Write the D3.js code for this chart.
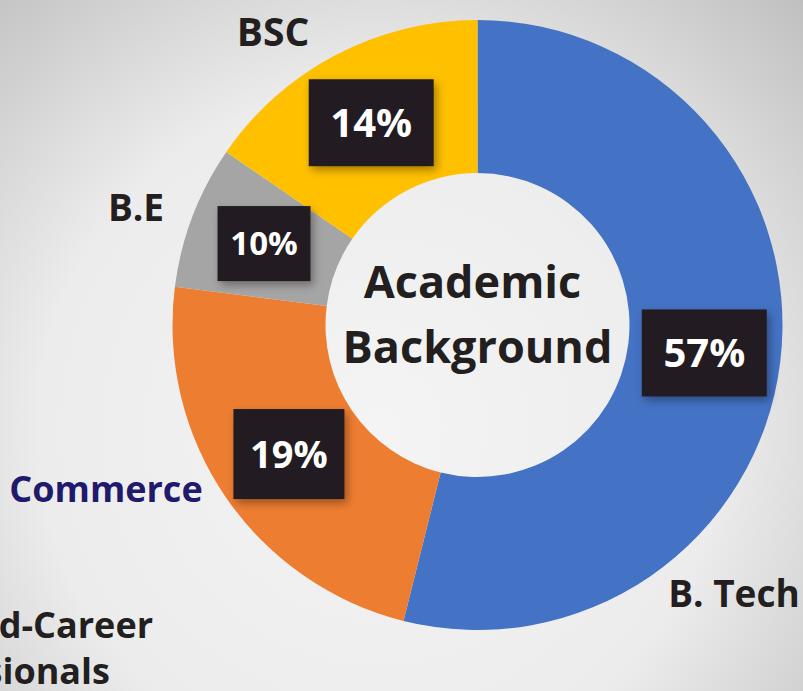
<!DOCTYPE html>
<html>
<head>
<meta charset="utf-8">
<script src="https://cdn.jsdelivr.net/npm/d3@7"></script>
<style>
  html, body { margin: 0; padding: 0; overflow: hidden; }
  body { width: 803px; height: 691px; }
  text { font-family: "Open Sans", Roboto, sans-serif; font-weight: 700; }
</style>
</head>
<body>
<script>
// categories in drawing order (clockwise from 12 o'clock)
var categories = ['B. Tech', 'Commerce', 'B.E', 'BSC'];
// arc sizes as drawn in the picture (share of the ring)
var arcShares = [53.9, 23.1, 7.6, 15.4];
// percentages printed on the slices
var printedPct = ['57%', '19%', '10%', '14%'];
var colors = ['#4472c4', '#ed7d31', '#a5a5a5', '#ffc000'];
var extraLabel = ['Mid-Career', 'Professionals'];

var W = 803, H = 691;
var cx = 477.5, cy = 325, outerR = 305, innerR = 152;

var svg = d3.select('body').append('svg')
    .attr('width', W)
    .attr('height', H);

var defs = svg.append('defs');
var grad = defs.append('radialGradient')
    .attr('id', 'bg')
    .attr('gradientUnits', 'userSpaceOnUse')
    .attr('cx', 380).attr('cy', 430).attr('r', 620);
grad.append('stop').attr('offset', '0%').attr('stop-color', '#f4f4f4');
grad.append('stop').attr('offset', '55%').attr('stop-color', '#ececec');
grad.append('stop').attr('offset', '100%').attr('stop-color', '#bdbdbd');

var shadow = defs.append('filter').attr('id', 'shadow')
    .attr('x', '-20%').attr('y', '-20%').attr('width', '150%').attr('height', '150%');
shadow.append('feDropShadow')
    .attr('dx', 3).attr('dy', 4).attr('stdDeviation', 4)
    .attr('flood-color', '#000').attr('flood-opacity', 0.35);

svg.append('rect')
    .attr('width', W).attr('height', H)
    .attr('fill', 'url(#bg)');

var g = svg.append('g').attr('transform', 'translate(' + cx + ',' + cy + ')');

var pie = d3.pie().sort(null).value(function (d) { return d; });
var arc = d3.arc().innerRadius(innerR).outerRadius(outerR);
var arcs = pie(arcShares);

g.selectAll('.slice')
    .data(arcs)
    .enter().append('path')
    .attr('class', 'slice')
    .attr('d', arc)
    .attr('fill', function (d, i) { return colors[i]; });

// centre title
g.append('text')
    .attr('text-anchor', 'middle')
    .attr('x', -5).attr('y', -27)
    .attr('fill', '#231f20')
    .style('font-size', '45px')
    .text('Academic');
g.append('text')
    .attr('text-anchor', 'middle')
    .attr('x', 0).attr('y', 38)
    .attr('fill', '#231f20')
    .style('font-size', '45px')
    .text('Background');

// percentage boxes on the slices
var boxStyle = [
    { w: 125, h: 87, fs: 40 },
    { w: 111, h: 90, fs: 38 },
    { w: 93, h: 75, fs: 33 },
    { w: 125, h: 87, fs: 40 }
];

var pct = g.selectAll('.pct')
    .data(arcs)
    .enter().append('g')
    .attr('class', 'pct')
    .attr('transform', function (d) {
        var c = arc.centroid(d);
        return 'translate(' + c[0] + ',' + c[1] + ')';
    });

pct.append('rect')
    .attr('x', function (d, i) { return -boxStyle[i].w / 2; })
    .attr('y', function (d, i) { return -boxStyle[i].h / 2; })
    .attr('width', function (d, i) { return boxStyle[i].w; })
    .attr('height', function (d, i) { return boxStyle[i].h; })
    .attr('fill', '#231f20')
    .attr('filter', 'url(#shadow)');

pct.append('text')
    .attr('text-anchor', 'middle')
    .attr('dy', '0.36em')
    .attr('fill', '#fff')
    .style('font-size', function (d, i) { return boxStyle[i].fs + 'px'; })
    .text(function (d, i) { return printedPct[i]; });

// category names around the ring
var namePos = [
    { x: 734, y: 607, fill: '#231f20', fs: 37 },
    { x: 106, y: 502, fill: '#1f1a6b', fs: 36 },
    { x: 136, y: 221, fill: '#231f20', fs: 37 },
    { x: 273, y: 46, fill: '#231f20', fs: 39 }
];

svg.selectAll('.name')
    .data(categories)
    .enter().append('text')
    .attr('class', 'name')
    .attr('text-anchor', 'middle')
    .attr('x', function (d, i) { return namePos[i].x; })
    .attr('y', function (d, i) { return namePos[i].y; })
    .attr('fill', function (d, i) { return namePos[i].fill; })
    .style('font-size', function (d, i) { return namePos[i].fs + 'px'; })
    .text(function (d) { return d; });

// label running off the left edge (cut off in the original too)
svg.append('text')
    .attr('text-anchor', 'end')
    .attr('x', 153).attr('y', 638)
    .attr('fill', '#231f20')
    .style('font-size', '36px')
    .text(extraLabel[0]);
svg.append('text')
    .attr('text-anchor', 'end')
    .attr('x', 110).attr('y', 684)
    .attr('fill', '#231f20')
    .style('font-size', '36px')
    .text(extraLabel[1]);
</script>
</body>
</html>
